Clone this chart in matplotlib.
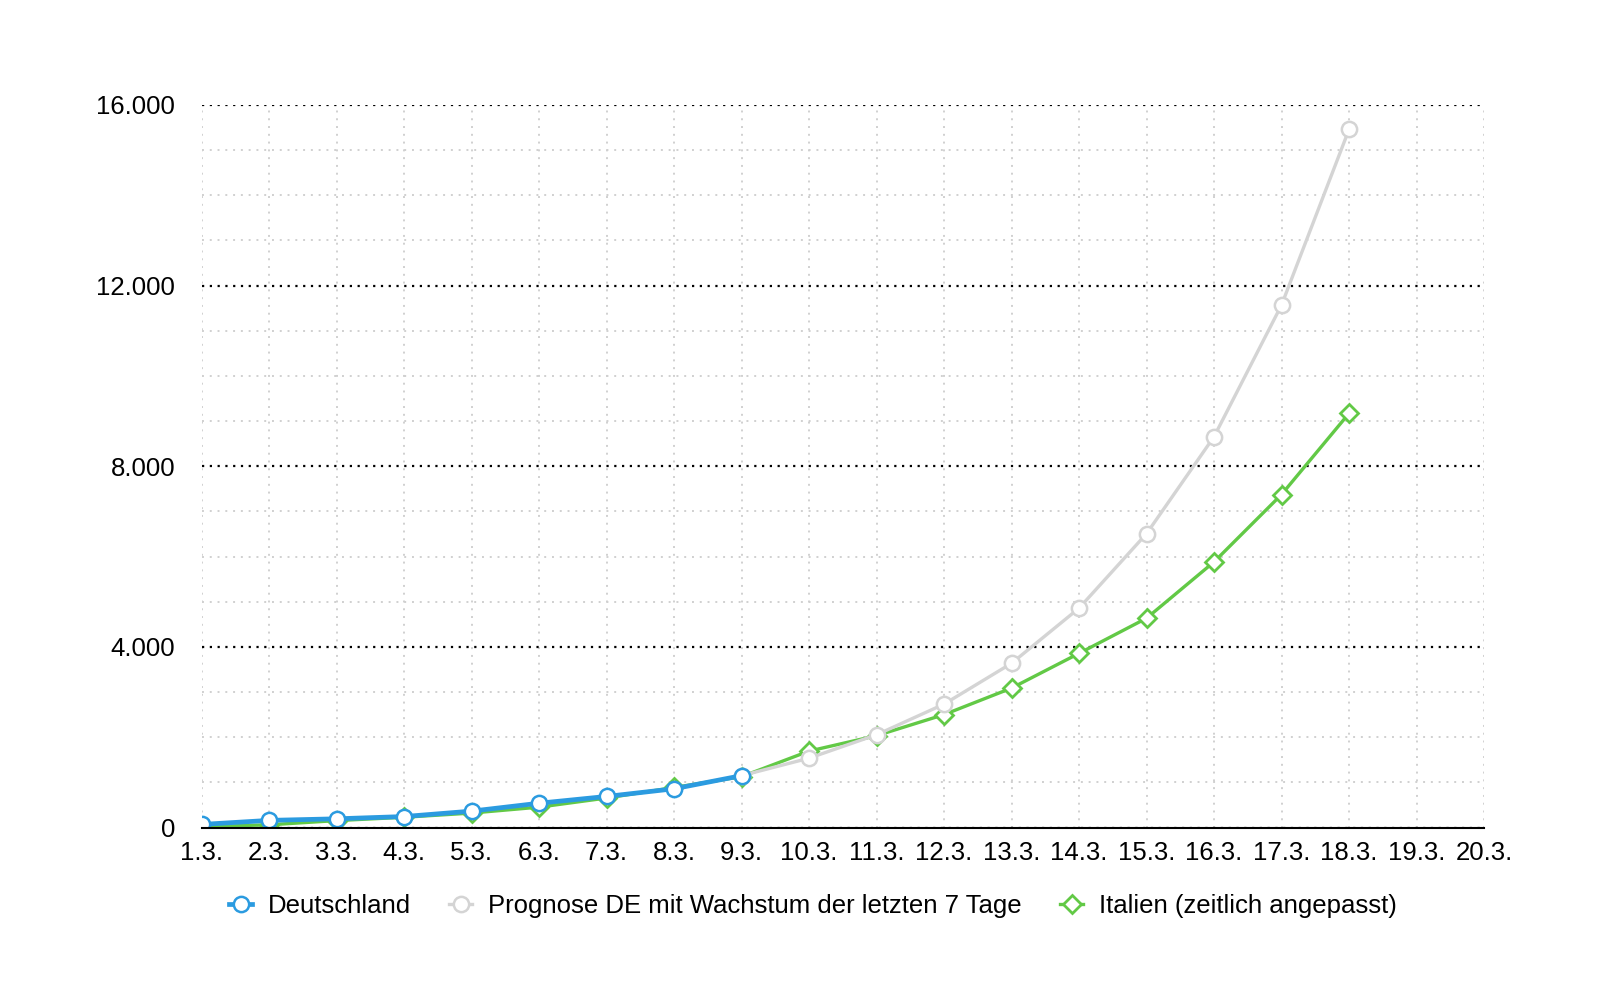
import matplotlib.pyplot as plt
from matplotlib.ticker import FixedLocator

plt.rcParams['font.family'] = ['Liberation Sans', 'DejaVu Sans']

# Days in March (1.3. .. 20.3.)
days = list(range(1, 21))
day_labels = ["{}.3.".format(d) for d in days]

# Deutschland, 1.3. - 9.3.
de_days = list(range(1, 10))
de_cases = [70, 160, 195, 245, 365, 540, 690, 860, 1150]

# Prognose DE mit Wachstum der letzten 7 Tage, 9.3. - 18.3.
prog_days = list(range(9, 19))
prog_cases = [1150, 1537, 2056, 2734, 3638, 4859, 6508, 8655, 11570, 15458]

# Italien (zeitlich angepasst), 1.3. - 18.3.
it_days = list(range(1, 19))
it_cases = [20, 62, 155, 229, 322, 453, 655, 888, 1128, 1694, 2036, 2502,
            3089, 3858, 4636, 5883, 7375, 9172]

y_major = [0, 4000, 8000, 12000, 16000]
y_labels = ["0", "4.000", "8.000", "12.000", "16.000"]

blue = '#2b9be0'
gray = '#d4d4d4'
green = '#62c946'

fig = plt.figure(figsize=(16, 10), dpi=100)
ax = fig.add_axes([0.126, 0.1724, 0.8015, 0.7226])

ax.plot(it_days, it_cases, color=green, lw=2.4, marker='D', ms=9,
        mfc='white', mec=green, mew=2, zorder=3,
        label='Italien (zeitlich angepasst)')
ax.plot(prog_days, prog_cases, color=gray, lw=2.4, marker='o', ms=11,
        mfc='white', mec=gray, mew=1.8, zorder=4,
        label='Prognose DE mit Wachstum der letzten 7 Tage')
ax.plot(de_days, de_cases, color=blue, lw=3.4, marker='o', ms=11,
        mfc='white', mec=blue, mew=1.8, zorder=5, label='Deutschland')

ax.set_xlim(1, 20)
ax.set_ylim(0, 16000)

ax.set_xticks(days)
ax.set_xticklabels(day_labels)
ax.set_yticks(y_major)
ax.set_yticklabels(y_labels)
ax.yaxis.set_minor_locator(FixedLocator([v for v in range(1000, 16000, 1000) if v % 4000]))

ax.grid(True, which='major', axis='y', color='black', linestyle=(0, (1, 2.5)), lw=1.6, zorder=1)
ax.grid(True, which='minor', axis='y', color='#d0d0d0', linestyle=(0, (1, 3)), lw=1.4, zorder=1)
ax.grid(True, which='major', axis='x', color='#d0d0d0', linestyle=(0, (1, 3)), lw=1.4, zorder=1)

for s in ['top', 'right', 'left']:
    ax.spines[s].set_visible(False)
ax.spines['bottom'].set_color('black')
ax.spines['bottom'].set_linewidth(1.5)
ax.spines['bottom'].set_zorder(6)

ax.tick_params(axis='both', which='both', length=0, labelsize=18.5)
ax.tick_params(axis='y', pad=19)
ax.tick_params(axis='x', pad=10)

handles, labels = ax.get_legend_handles_labels()
order = [2, 1, 0]
fig.legend([handles[i] for i in order], [labels[i] for i in order],
           loc='center', bbox_to_anchor=(0.508, 0.094), ncol=3, frameon=False,
           fontsize=18.5, handlelength=0.9, columnspacing=1.5, handletextpad=0.6)

fig.savefig('out.png', dpi=100, facecolor='white')
